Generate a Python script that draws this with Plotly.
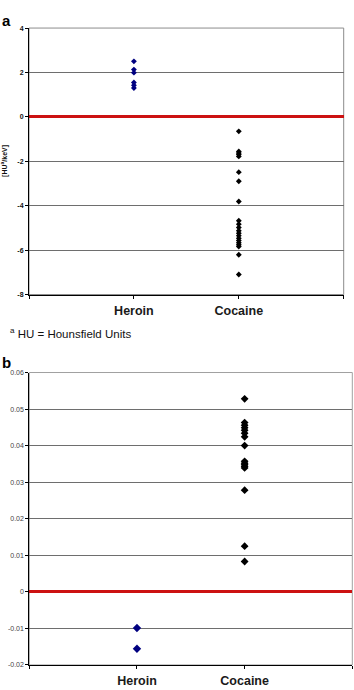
import plotly.graph_objects as go

W, H = 354, 690

categories = ["Heroin", "Cocaine"]

# Panel a values [HU/keV]
heroin_a = [2.50, 2.13, 1.99, 1.55, 1.42, 1.30]
cocaine_a = [-0.65, -1.56, -1.63, -1.70, -1.78, -2.49, -2.90, -3.81, -4.68, -4.83,
             -4.98, -5.13, -5.24, -5.35, -5.47, -5.57, -5.67, -5.76, -5.84, -6.21, -7.10]

# Panel b values
heroin_b = [-0.0099, -0.0156]
cocaine_b = [0.0528, 0.0463, 0.0456, 0.0449, 0.0442, 0.0434, 0.0424, 0.0400, 0.0357,
             0.0352, 0.0348, 0.0343, 0.0339, 0.0278, 0.0125, 0.0083]

yticks_a = [-8, -6, -4, -2, 0, 2, 4]
yticks_b = [-0.02, -0.01, 0, 0.01, 0.02, 0.03, 0.04, 0.05, 0.06]
yticktext_b = ["-0.02", "-0.01", "0", "0.01", "0.02", "0.03", "0.04", "0.05", "0.06"]

xpos = {c: i + 1 for i, c in enumerate(categories)}
xlabel_vals = [xpos[c] for c in categories]
xtick_marks = list(range(0, len(categories) + 2))

FONT = "Liberation Sans, Arial, sans-serif"

fig = go.Figure()

def add(xcat, vals, color, size, xa, ya):
    fig.add_trace(go.Scatter(
        x=[xpos[xcat]] * len(vals), y=vals, mode="markers",
        marker=dict(symbol="diamond", size=size, color=color, line=dict(width=0)),
        xaxis=xa, yaxis=ya, showlegend=False, hoverinfo="y"))

add("Heroin", heroin_a, "#000080", 4.5, "x", "y")
add("Cocaine", cocaine_a, "#000000", 4.5, "x", "y")
add("Heroin", heroin_b, "#000080", 6.5, "x2", "y2")
add("Cocaine", cocaine_b, "#000000", 6, "x2", "y2")

def px_x(a, b):
    return [a / W, b / W]

def px_y(top, bottom):
    return [1 - bottom / H, 1 - top / H]

xcommon = dict(range=[0, len(categories) + 1], tickvals=xlabel_vals, ticktext=categories,
               showgrid=False, zeroline=False, showline=True, linecolor="#000000",
               linewidth=1, ticks="", ticklabelstandoff=4,
               minor=dict(tickvals=xtick_marks, ticks="outside", ticklen=3,
                          tickcolor="#000000", showgrid=False),
               tickfont=dict(family=FONT, size=12.5, color="#1a1a1a", weight="bold"),
               fixedrange=True)

fig.update_layout(
    width=W, height=H, margin=dict(l=0, r=0, t=0, b=0),
    paper_bgcolor="white", plot_bgcolor="white",
    xaxis=dict(domain=px_x(29, 343.7), anchor="y", **xcommon),
    yaxis=dict(domain=px_y(24.3, 293.5), anchor="x", range=[-8, 4],
               tickvals=yticks_a, ticktext=[str(v) for v in yticks_a],
               showgrid=True, gridcolor="#6e6e6e", gridwidth=1,
               zeroline=True, zerolinecolor="#cc1111", zerolinewidth=2.5,
               showline=True, linecolor="#000000", linewidth=1,
               ticks="outside", ticklen=3, tickcolor="#000000",
               tickfont=dict(family=FONT, size=7, color="#111111", weight="bold"),
               fixedrange=True),
    xaxis2=dict(domain=px_x(29.3, 352.3), anchor="y2", **xcommon),
    yaxis2=dict(domain=px_y(372.3, 667.7), anchor="x2", range=[-0.02, 0.06],
                tickvals=yticks_b, ticktext=yticktext_b,
                showgrid=True, gridcolor="#6e6e6e", gridwidth=1,
                zeroline=True, zerolinecolor="#cc1111", zerolinewidth=2.5,
                showline=True, linecolor="#000000", linewidth=1,
                ticks="outside", ticklen=3, tickcolor="#000000",
                tickfont=dict(family=FONT, size=7, color="#444444"),
                fixedrange=True),
    shapes=[
        dict(type="rect", xref="x domain", yref="y domain", x0=0, x1=1, y0=0, y1=1,
             line=dict(color="#8c8c8c", width=1), layer="below"),
        dict(type="rect", xref="x2 domain", yref="y2 domain", x0=0, x1=1, y0=0, y1=1,
             line=dict(color="#a0a0a0", width=1), layer="below"),
    ],
    annotations=[
        dict(text="<b>a</b>", x=0, y=1 - 6 / H, xref="paper", yref="paper",
             xanchor="left", yanchor="top", showarrow=False,
             font=dict(family=FONT, size=15, color="#000000")),
        dict(text="<b>b</b>", x=0, y=1 - 352 / H, xref="paper", yref="paper",
             xanchor="left", yanchor="top", showarrow=False,
             font=dict(family=FONT, size=15, color="#000000")),
        dict(text="<b>[HU<sup>a</sup>/keV]</b>", x=5 / W, y=1 - 158.5 / H,
             xref="paper", yref="paper", xanchor="center", yanchor="middle",
             textangle=-90, showarrow=False,
             font=dict(family=FONT, size=7, color="#111111")),
        dict(text="<sup>a</sup> HU = Hounsfield Units", x=8 / W, y=1 - 332 / H,
             xref="paper", yref="paper", xanchor="left", yanchor="middle",
             showarrow=False, font=dict(family=FONT, size=11.5, color="#111111")),
    ],
)

fig.write_html("out.html")
